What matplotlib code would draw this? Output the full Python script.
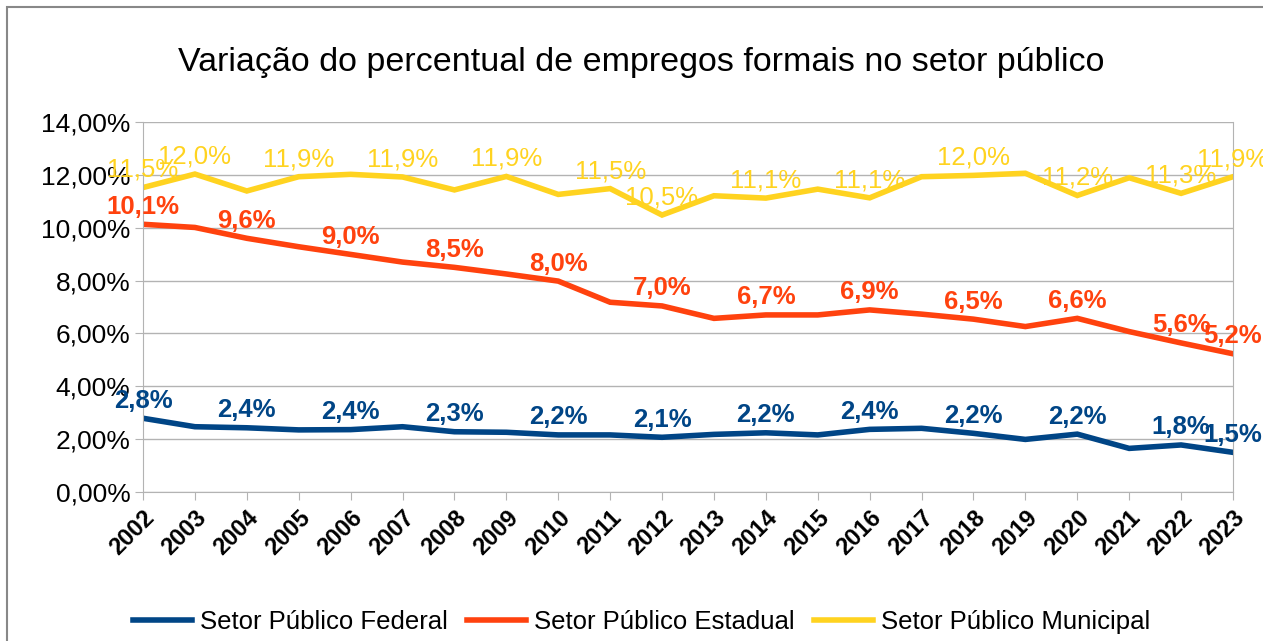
import matplotlib.pyplot as plt
from matplotlib.ticker import FuncFormatter, MultipleLocator
from matplotlib.patches import Rectangle

plt.rcParams['font.family'] = ['Liberation Sans', 'DejaVu Sans']

# Dados (percentual de empregos formais)
anos = list(range(2002, 2024))

federal = [2.79, 2.47, 2.43, 2.35, 2.36, 2.47, 2.28, 2.26, 2.16, 2.16, 2.07,
           2.18, 2.24, 2.16, 2.37, 2.41, 2.22, 1.99, 2.19, 1.65, 1.78, 1.50]
estadual = [10.13, 10.01, 9.60, 9.28, 8.99, 8.70, 8.50, 8.25, 7.98, 7.18, 7.04,
            6.57, 6.70, 6.70, 6.89, 6.73, 6.54, 6.26, 6.57, 6.07, 5.64, 5.23]
municipal = [11.52, 12.03, 11.39, 11.93, 12.02, 11.92, 11.43, 11.94, 11.26, 11.48, 10.48,
             11.21, 11.12, 11.46, 11.13, 11.93, 11.98, 12.06, 11.22, 11.89, 11.30, 11.93]

# Anos que tem rotulo no grafico original
rotulos_federal = [2002, 2004, 2006, 2008, 2010, 2012, 2014, 2016, 2018, 2020, 2022, 2023]
rotulos_estadual = [2002, 2004, 2006, 2008, 2010, 2012, 2014, 2016, 2018, 2020, 2022, 2023]
rotulos_municipal = [2002, 2003, 2005, 2007, 2009, 2011, 2012, 2014, 2016, 2018, 2020, 2022, 2023]

series = [
    ('Setor Público Federal', federal, '#004586', rotulos_federal, 'bold'),
    ('Setor Público Estadual', estadual, '#ff420e', rotulos_estadual, 'bold'),
    ('Setor Público Municipal', municipal, '#ffd320', rotulos_municipal, 'normal'),
]

fig = plt.figure(figsize=(12.63, 6.41), dpi=100)
ax = fig.add_axes([143 / 1263, 1 - 492 / 641, 1090 / 1263, 370 / 641])

# Moldura cinza em volta do grafico
fig.patches.append(Rectangle((7 / 1263, -0.1), 1.2, 1 - 7 / 641 + 0.1,
                             transform=fig.transFigure, fill=False,
                             edgecolor='#888888', linewidth=1.5))

for nome, valores, cor, rotulos, peso in series:
    ax.plot(anos, valores, color=cor, linewidth=4, label=nome, solid_joinstyle='miter')
    for ano in rotulos:
        v = valores[anos.index(ano)]
        ax.annotate(f'{v:.1f}%'.replace('.', ','), (ano, v), xytext=(0, 4),
                    textcoords='offset points', ha='center', va='bottom',
                    color=cor, fontsize=18.5, fontweight=peso)

ax.set_xlim(2002, 2023)
ax.set_ylim(0, 14)
ax.yaxis.set_major_locator(MultipleLocator(2))
ax.yaxis.set_major_formatter(FuncFormatter(lambda v, p: f'{v:.2f}%'.replace('.', ',')))
ax.set_xticks(anos)
ax.set_xticklabels([str(a) for a in anos], rotation=45, ha='right', rotation_mode='anchor',
                   fontsize=17, fontweight='bold')
ax.tick_params(axis='y', labelsize=19, length=6, color='#b3b3b3', pad=3)
ax.tick_params(axis='x', length=6, color='#b3b3b3', pad=4)
ax.grid(axis='y', color='#b3b3b3', linewidth=1)
ax.set_axisbelow(True)
for lado in ['left', 'bottom', 'right']:
    ax.spines[lado].set_color('#b3b3b3')
ax.spines['top'].set_visible(False)

fig.text(0.508, 1 - 63 / 641, 'Variação do percentual de empregos formais no setor público',
         ha='center', va='center', fontsize=24.5)

fig.legend(loc='center', bbox_to_anchor=(0.508, 1 - 622 / 641), ncol=3, frameon=False,
           fontsize=18.5, handlelength=2.3, handletextpad=0.3, columnspacing=0.75)

fig.savefig('out.png', dpi=100)
